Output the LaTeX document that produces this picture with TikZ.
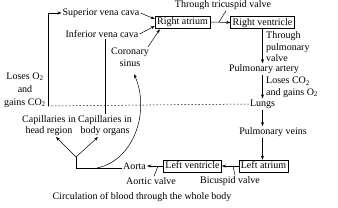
\documentclass[tikz,border=0pt]{standalone}
\usepackage{fontspec}
\setmainfont{Liberation Serif}
\usetikzlibrary{arrows.meta}
\begin{document}
\begin{tikzpicture}[x=1pt,y=-1pt,
  every node/.style={font=\fontsize{10}{11.5}\selectfont, inner sep=1pt},
  box/.style={draw, line width=0.6pt, inner xsep=2pt, inner ysep=1.5pt, text height=7pt, text depth=2pt},
  arr/.style={-{Stealth[length=4pt,width=3pt]}, line width=0.5pt},
  ln/.style={line width=0.5pt},
  dot/.style={line width=0.5pt, dash pattern=on 1.5pt off 2pt}]
\useasboundingbox (0,0) rectangle (338,207);

% boxes
\node[box] (ra) at (182.5,22) {Right atrium};
\node[box] (rv) at (262.5,22.5) {Right ventricle};
\node[box] (la) at (263.5,166) {Left atrium};
\node[box] (lv) at (192.5,166) {Left ventricle};

% labels
\node (tric) at (223,5) {Through tricuspid valve};
\node (sup) at (101,13) {Superior vena cava};
\node (inf) at (102,34) {Inferior vena cava};
\node[align=center] (cor) at (130,57) {Coronary\\sinus};
\node[align=left, anchor=west] (pvv) at (265,47) {Through\\pulmonary\\valve};
\node (pa) at (264,69) {Pulmonary artery};
\node[align=left, anchor=west] (lc) at (265,87.5) {Loses CO\textsubscript{2}\\and gains O\textsubscript{2}};
\node (lungs) at (262.5,104) {Lungs};
\node (pvn) at (273,132) {Pulmonary veins};
\node[align=center, font=\fontsize{10}{13}\selectfont] (lo) at (25,90) {Loses O\textsubscript{2}\\and\\gains CO\textsubscript{2}};
\node[align=center] (caph) at (49,125.5) {Capillaries in\\head region};
\node[align=center] (capb) at (105,125.5) {Capillaries in\\body organs};
\node (aorta) at (134.5,166) {Aorta};
\node (aov) at (151,181) {Aortic valve};
\node (bic) at (230,181) {Bicuspid valve};
\node (cap) at (142,197) {Circulation of blood through the whole body};

% coordinates
\coordinate (lt) at (48,13);
\coordinate (lb) at (48,106);
\coordinate (tv) at (219,22);
\coordinate (bv) at (233,166);
\coordinate (av) at (158,166);
\coordinate (br) at (76,168);
\coordinate (jn) at (76,157);
\coordinate (cs) at (97,168);

% top-left loop
\draw[arr] (lb) -- (lt) -- (sup.west);
\draw[arr] (sup.east) -- ([yshift=3pt]ra.west);
\draw[arr] (inf.east) -- ([yshift=-4pt]ra.west);
\draw[arr] ([xshift=-2pt]cor.north east) -- ([xshift=5pt,yshift=-1pt]ra.south west);
\draw[ln] (capb.north) -- (capb.north |- inf.south);

% heart right side
\draw[arr] (ra.east) -- (rv.west);
\draw[ln] ([xshift=3pt]tric.south) -- (tv);
\draw[arr] (rv.south -| lungs) -- (pa.north -| lungs);
\draw[arr] (pa.south -| lungs) -- (lungs.north);
\draw[dot] (lb) -- (lungs.west);
\draw[arr] (lungs.south) -- (pvn.north -| lungs);
\draw[arr] (pvn.south -| lungs) -- (la.north -| lungs);
\draw[arr] (la.west) -- (lv.east);
\draw[ln] (bv) -- ([xshift=5pt]bic.north);
\draw[arr] (lv.west) -- (aorta.east);
\draw[ln] (av) -- ([xshift=3pt]aov.north);

% aorta distribution
\draw[ln] ([yshift=-2pt]aorta.west) -- (br) -- (jn);
\draw[arr] (jn) -- ([xshift=7pt]caph.south);
\draw[arr] (jn) -- ([xshift=-7pt]capb.south);
\draw[arr] (cs) .. controls (135,160) and (150,110) .. (134,74);
\end{tikzpicture}
\end{document}
